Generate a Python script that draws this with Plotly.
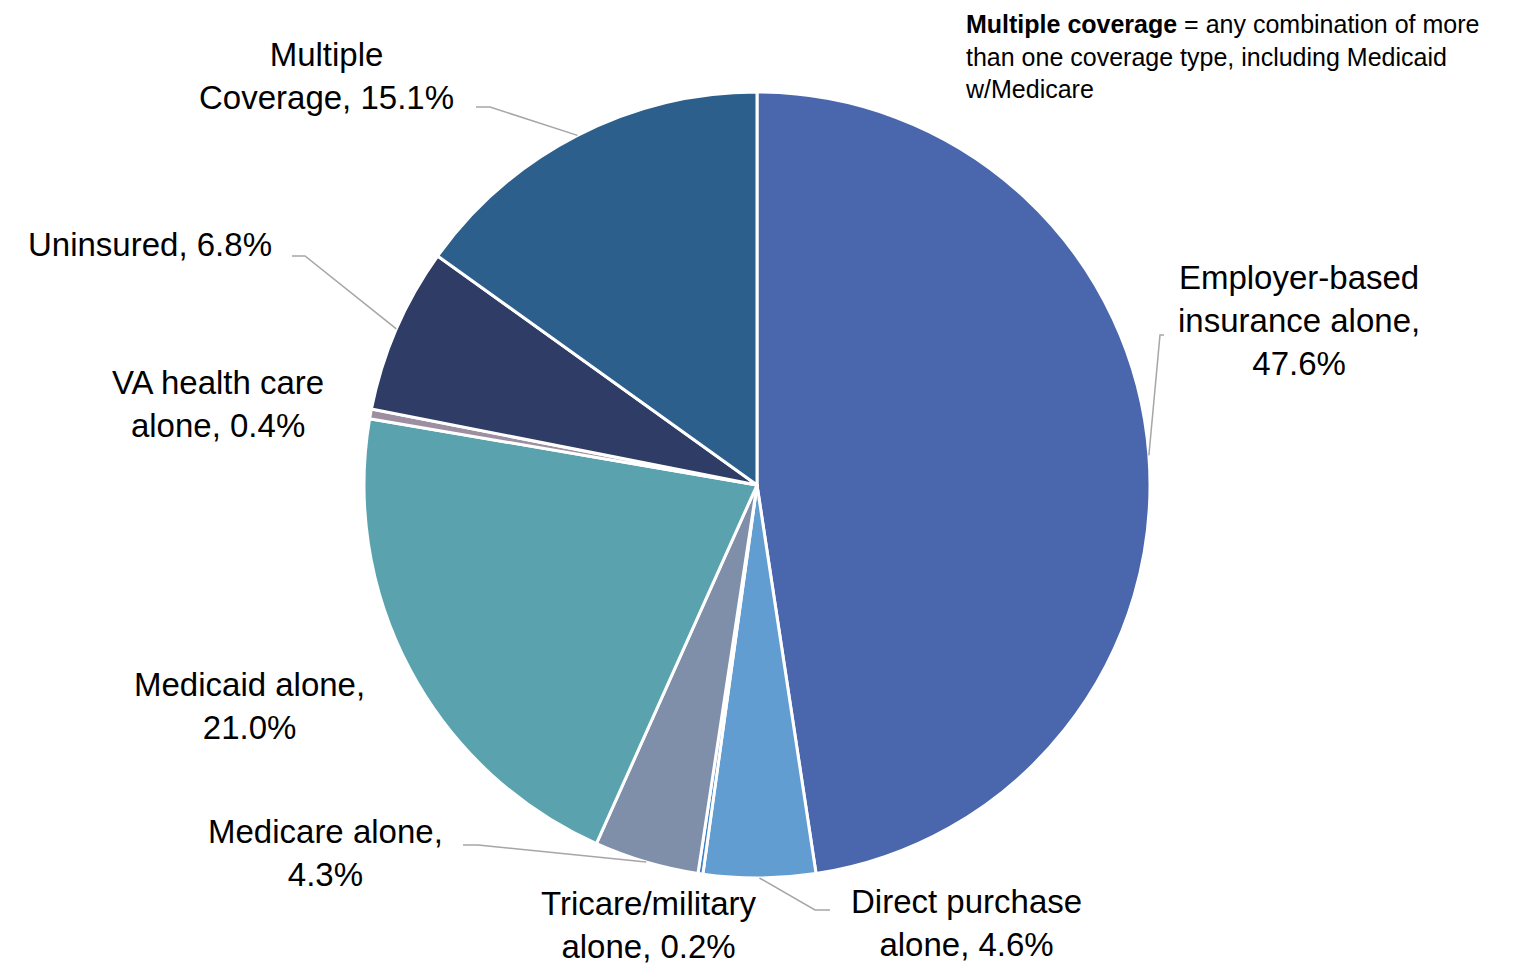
import math
import plotly.graph_objects as go

# ---- data ----
categories = ["Employer-based insurance alone", "Direct purchase alone", "Tricare/military alone",
              "Medicare alone", "Medicaid alone", "VA health care alone", "Uninsured", "Multiple Coverage"]
shares = [47.6, 4.6, 0.2, 4.3, 21.0, 0.4, 6.8, 15.1]
label_texts = ["Employer-based<br>insurance alone,<br>47.6%", "Direct purchase<br>alone, 4.6%",
               "Tricare/military<br>alone, 0.2%", "Medicare alone,<br>4.3%", "Medicaid alone,<br>21.0%",
               "VA health care<br>alone, 0.4%", "Uninsured, 6.8%", "Multiple<br>Coverage, 15.1%"]
colors = ["#4A66AC", "#629DD1", "#3F7FC8", "#7F8FA9", "#5AA2AE", "#9C8FA2", "#2E3C66", "#2D5F8C"]

note_text = ("<b>Multiple coverage</b> = any combination of more<br>"
             "than one coverage type, including Medicaid<br>w/Medicare")

# ---- layout constants (pixels in the screenshot; page body has an 8px margin) ----
OFF = 8
W, H = 1517 - OFF, 964 - OFF
CX, CY, R = 757, 485, 393
label_pos = [(1299, 320), (966, 923), (649, 925), (325, 853), (249, 706), (218, 404), (150, 244), (326, 76)]
# elbow points for leader lines (None = no leader)
elbows = [[(1160, 335), (1164, 335)], [(815, 910), (830, 910)], None, [(478, 845), (463, 845)],
          None, None, [(305, 256), (292, 256)], [(490, 107), (476, 107)]]

def px(x, y):
    return (x - OFF) / W, 1 - (y - OFF) / H

x0, y_top = px(CX - R, CY - R)
x1, y_bot = px(CX + R, CY + R)

fig = go.Figure(go.Pie(
    labels=categories, values=shares, sort=False, direction="clockwise", rotation=0,
    marker=dict(colors=colors, line=dict(color="white", width=3)),
    textinfo="none", hoverinfo="label+percent", showlegend=False,
    domain=dict(x=[x0, x1], y=[y_bot, y_top]),
))

total = sum(shares)
cum = 0.0
shapes = []
for i, v in enumerate(shares):
    mid = (cum + v / 2) / total * 2 * math.pi
    cum += v
    if elbows[i] is None:
        continue
    ex, ey = CX + R * math.sin(mid), CY - R * math.cos(mid)
    pts = [(ex, ey)] + elbows[i]
    path = "M " + " L ".join(f"{px(x, y)[0]:.5f},{px(x, y)[1]:.5f}" for x, y in pts)
    shapes.append(dict(type="path", path=path, xref="paper", yref="paper",
                       line=dict(color="#A6A6A6", width=1.5)))

FONT = "Liberation Sans, Arial, sans-serif"
annotations = []
for t, (x, y) in zip(label_texts, label_pos):
    ax, ay = px(x, y)
    annotations.append(dict(text=t, x=ax, y=ay, xref="paper", yref="paper", showarrow=False,
                            xanchor="center", yanchor="middle", align="center",
                            font=dict(size=33, color="black", family=FONT)))
nx, _ = px(963, 8)
annotations.append(dict(text=note_text, x=nx, y=1.0, xref="paper", yref="paper", showarrow=False,
                        xanchor="left", yanchor="top", align="left",
                        font=dict(size=25, color="black", family=FONT)))

fig.update_layout(width=W, height=H, margin=dict(l=0, r=0, t=0, b=0),
                  paper_bgcolor="white", plot_bgcolor="white",
                  shapes=shapes, annotations=annotations)
fig.write_html("out.html")
